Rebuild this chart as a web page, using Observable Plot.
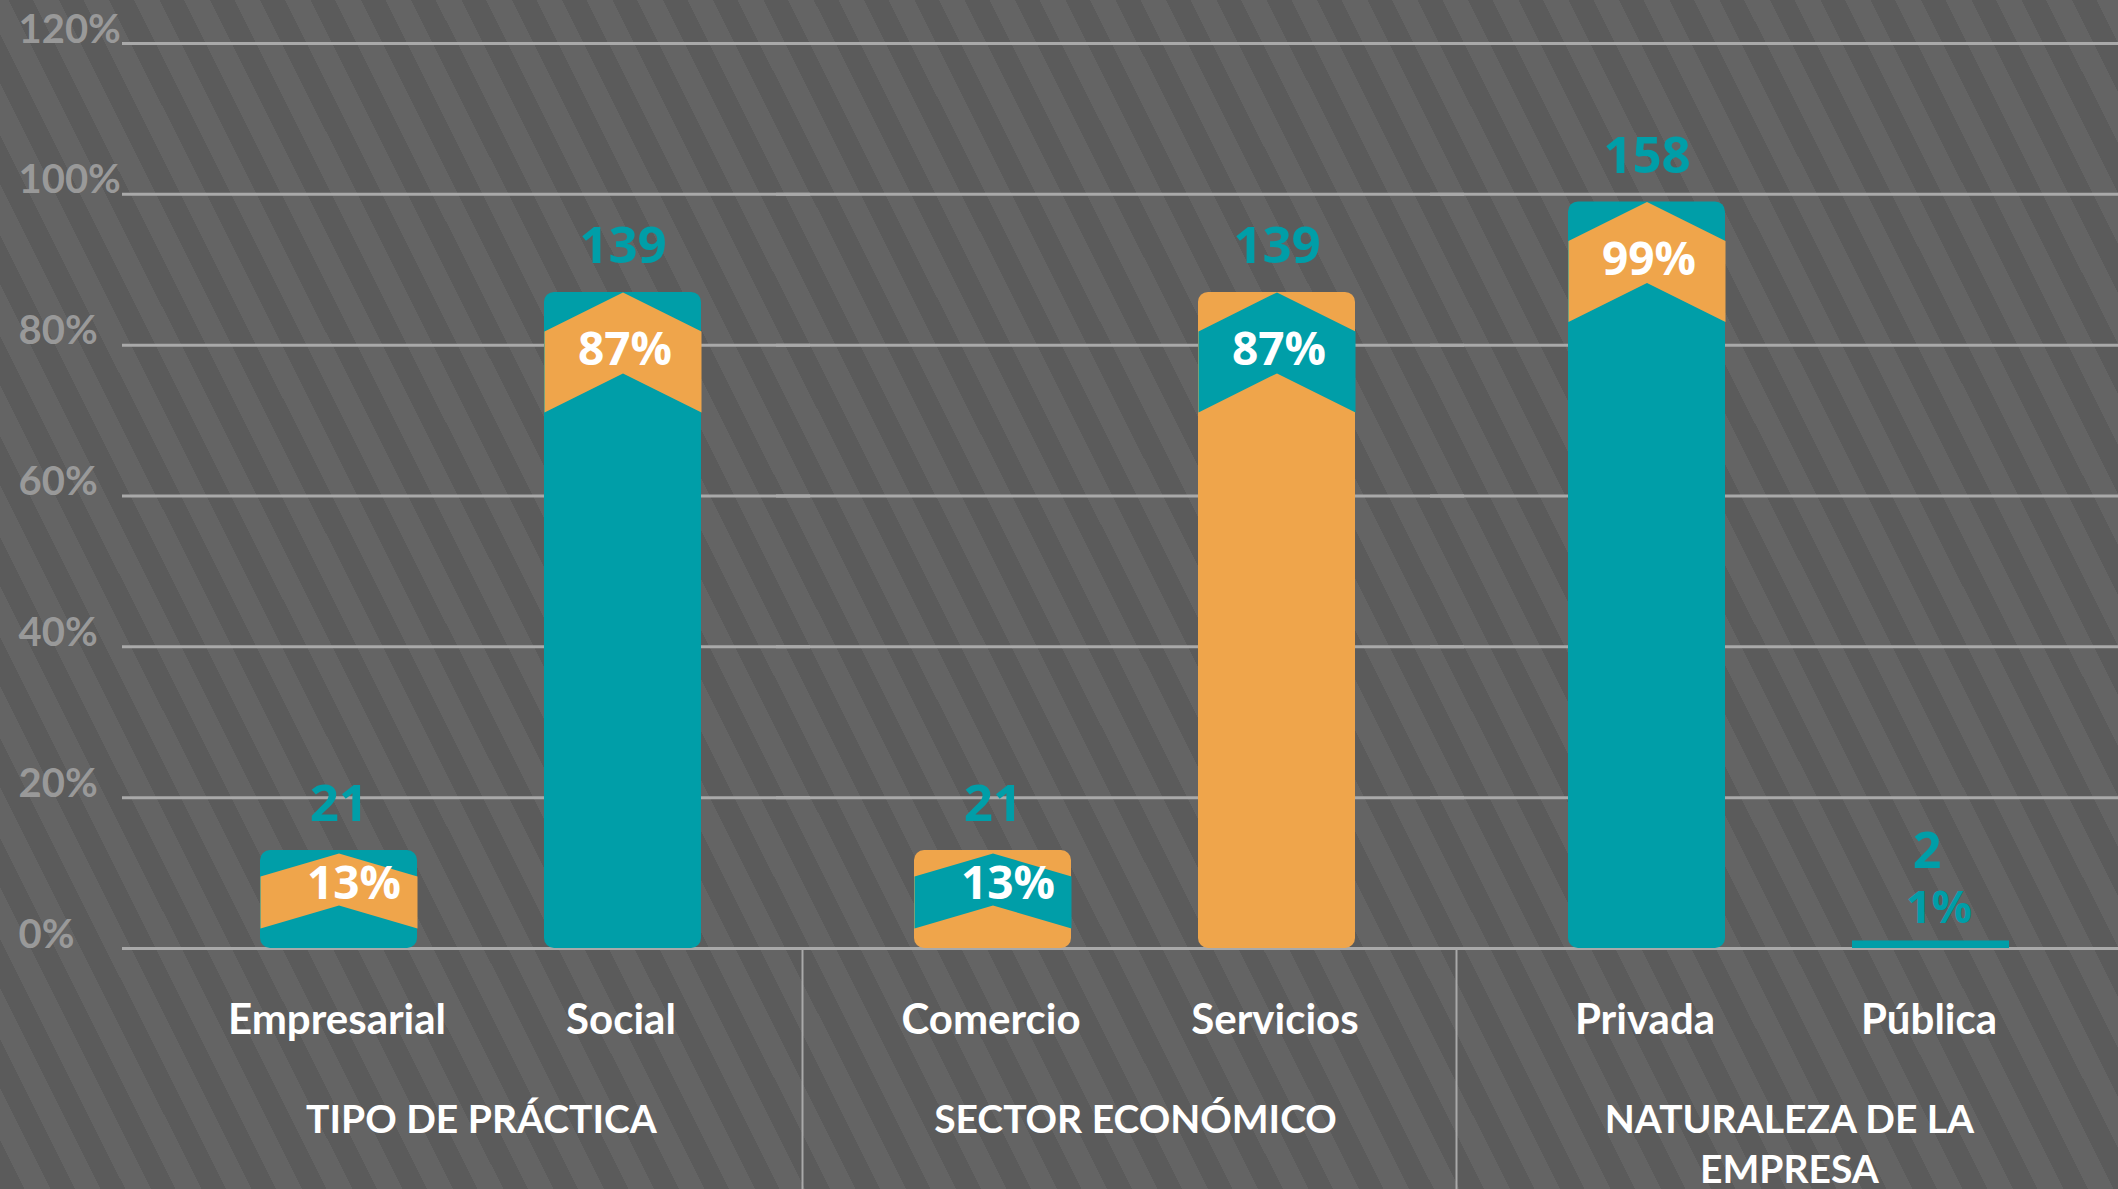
<!DOCTYPE html>
<html>
<head>
<meta charset="utf-8">
<script src="https://cdn.jsdelivr.net/npm/d3@7"></script>
<script src="https://cdn.jsdelivr.net/npm/@observablehq/plot@0.6"></script>
<style>
  html, body { margin: 0; padding: 0; width: 2118px; height: 1189px; overflow: hidden; }
  body { background: repeating-linear-gradient(63.4deg, #5b5b5b 0px, #5b5b5b 22px, #646464 22px, #646464 45px); }
  svg { display: block; }
  g[aria-label="pct-label"] text { letter-spacing: 4px; }
  g[aria-label="count-label"] text { letter-spacing: 1px; }
</style>
</head>
<body>
<script>
// ---- data ----
const groups = ["TIPO DE PRÁCTICA", "SECTOR ECONÓMICO", "NATURALEZA DE LA EMPRESA"];
const groupLabels = ["TIPO DE PRÁCTICA", "SECTOR ECONÓMICO", "NATURALEZA DE LA\nEMPRESA"];
const categories = ["Empresarial", "Social", "Comercio", "Servicios", "Privada", "Pública"];
const categoryGroup = [0, 0, 1, 1, 2, 2];
const counts = [21, 139, 21, 139, 158, 2];
const percents = [13, 87, 13, 87, 99, 1];
const yTicks = [0, 20, 40, 60, 80, 100, 120];

// ---- styles ----
const TEAL = "#009ea8";
const ORANGE = "#efa54b";
const bodyColor = {Empresarial: TEAL, Social: TEAL, Comercio: ORANGE, Servicios: ORANGE, Privada: TEAL, "Pública": TEAL};
const bandColor = c => bodyColor[c] === TEAL ? ORANGE : TEAL;
const BAR_W = 157;

const rows = categories.map((c, i) => {
  const g = categoryGroup[i];
  const slot = categoryGroup.slice(0, i).filter(v => v === g).length;
  return {category: c, group: groups[g], slot, count: counts[i], pct: percents[i]};
});
const isTall = d => d.pct >= 50;
const isShort = d => d.pct >= 5 && d.pct < 50;
const isTiny = d => d.pct < 5;

function chevron(apex, rise, thick) {
  return {
    draw(ctx) {
      const w = BAR_W / 2;
      ctx.moveTo(-w, apex + rise);
      ctx.lineTo(0, apex);
      ctx.lineTo(w, apex + rise);
      ctx.lineTo(w, apex + rise + thick);
      ctx.lineTo(0, apex + thick);
      ctx.lineTo(-w, apex + rise + thick);
      ctx.closePath();
    }
  };
}
const chevTall = chevron(0, 39, 81);
const chevShort = chevron(3, 23, 52);

const NUM_FONT = "'Open Sans', 'Noto Sans', sans-serif";
const LABEL_FONT = "Lato, 'Open Sans', sans-serif";
const common = {fx: "group", x: "slot", y: "pct"};

const plot = Plot.plot({
  width: 2118,
  height: 1189,
  marginLeft: 122,
  marginRight: 34,
  marginTop: 43,
  marginBottom: 241,
  style: {background: "transparent", fontFamily: NUM_FONT, overflow: "visible", color: "white"},
  fx: {domain: groups, paddingInner: 0, paddingOuter: 0, axis: null},
  x: {type: "band", domain: [0, 1], paddingInner: 0.448, paddingOuter: 0.3734, align: 0.645, axis: null},
  y: {domain: [0, 120], axis: null},
  color: {type: "identity"},
  marks: [
    Plot.ruleY(yTicks, {y: d => d, stroke: "#a9a9a9", strokeWidth: 3, insetRight: -34}),
    Plot.ruleX(groups.slice(1), {fx: d => d, x: null, y1: () => 0, y2: () => 0, insetBottom: -241, dx: -301, stroke: "#a9a9a9", strokeWidth: 2}),
    Plot.barY(rows.filter(d => !isTiny(d)), {...common, fill: d => bodyColor[d.category], rx: 10}),
    Plot.barY(rows.filter(isTiny), {...common, fill: d => bodyColor[d.category]}),
    Plot.dot(rows.filter(isTall), {...common, symbol: chevTall, r: 10, fill: d => bandColor(d.category), stroke: "none"}),
    Plot.dot(rows.filter(isShort), {...common, symbol: chevShort, r: 10, fill: d => bandColor(d.category), stroke: "none"}),
    // percent labels inside chevrons
    Plot.text(rows.filter(isTall), {...common, text: d => `${d.pct}%`, ariaLabel: "pct-label", lineAnchor: "bottom", dy: 73, dx: 2, fill: "white", fontSize: 46, fontWeight: 700}),
    Plot.text(rows.filter(isShort), {...common, text: d => `${d.pct}%`, ariaLabel: "pct-label", lineAnchor: "bottom", dy: 49, dx: 15, fill: "white", fontSize: 46, fontWeight: 700}),
    // tiny bar labels
    Plot.text(rows.filter(isTiny), {...common, text: d => `${d.pct}%`, ariaLabel: "pct-label", lineAnchor: "bottom", dy: -18, dx: 8, fill: TEAL, fontSize: 45, fontWeight: 700}),
    Plot.text(rows.filter(isTiny), {...common, text: d => String(d.count), ariaLabel: "count-label", lineAnchor: "bottom", dy: -73, dx: -4, fill: TEAL, fontSize: 50, fontWeight: 700}),
    // count labels above bars
    Plot.text(rows.filter(d => !isTiny(d)), {...common, text: d => String(d.count), ariaLabel: "count-label", lineAnchor: "bottom", dy: -29, dx: 0, fill: TEAL, fontSize: 51, fontWeight: 700}),
    // category labels
    Plot.text(rows, {fx: "group", x: "slot", y: () => 0, text: "category", lineAnchor: "bottom", dy: 85, dx: -2, fill: "white", fontFamily: LABEL_FONT, fontSize: 42, fontWeight: 700}),
    // group titles
    Plot.text(groups, {fx: d => d, text: (d, i) => groupLabels[i], frameAnchor: "bottom", lineAnchor: "top", dy: 148, dx: 32, lineHeight: 1.3, fill: "white", fontFamily: LABEL_FONT, fontSize: 39, fontWeight: 700}),
    // y tick labels
    Plot.text(yTicks, {fx: () => groups[0], y: d => d, text: d => `${d}%`, frameAnchor: "left", textAnchor: "start", lineAnchor: "bottom", dx: -104, dy: -1, fill: "#999999", fontFamily: LABEL_FONT, fontSize: 40, fontWeight: 700})
  ]
});
document.body.appendChild(plot);
</script>
</body>
</html>
